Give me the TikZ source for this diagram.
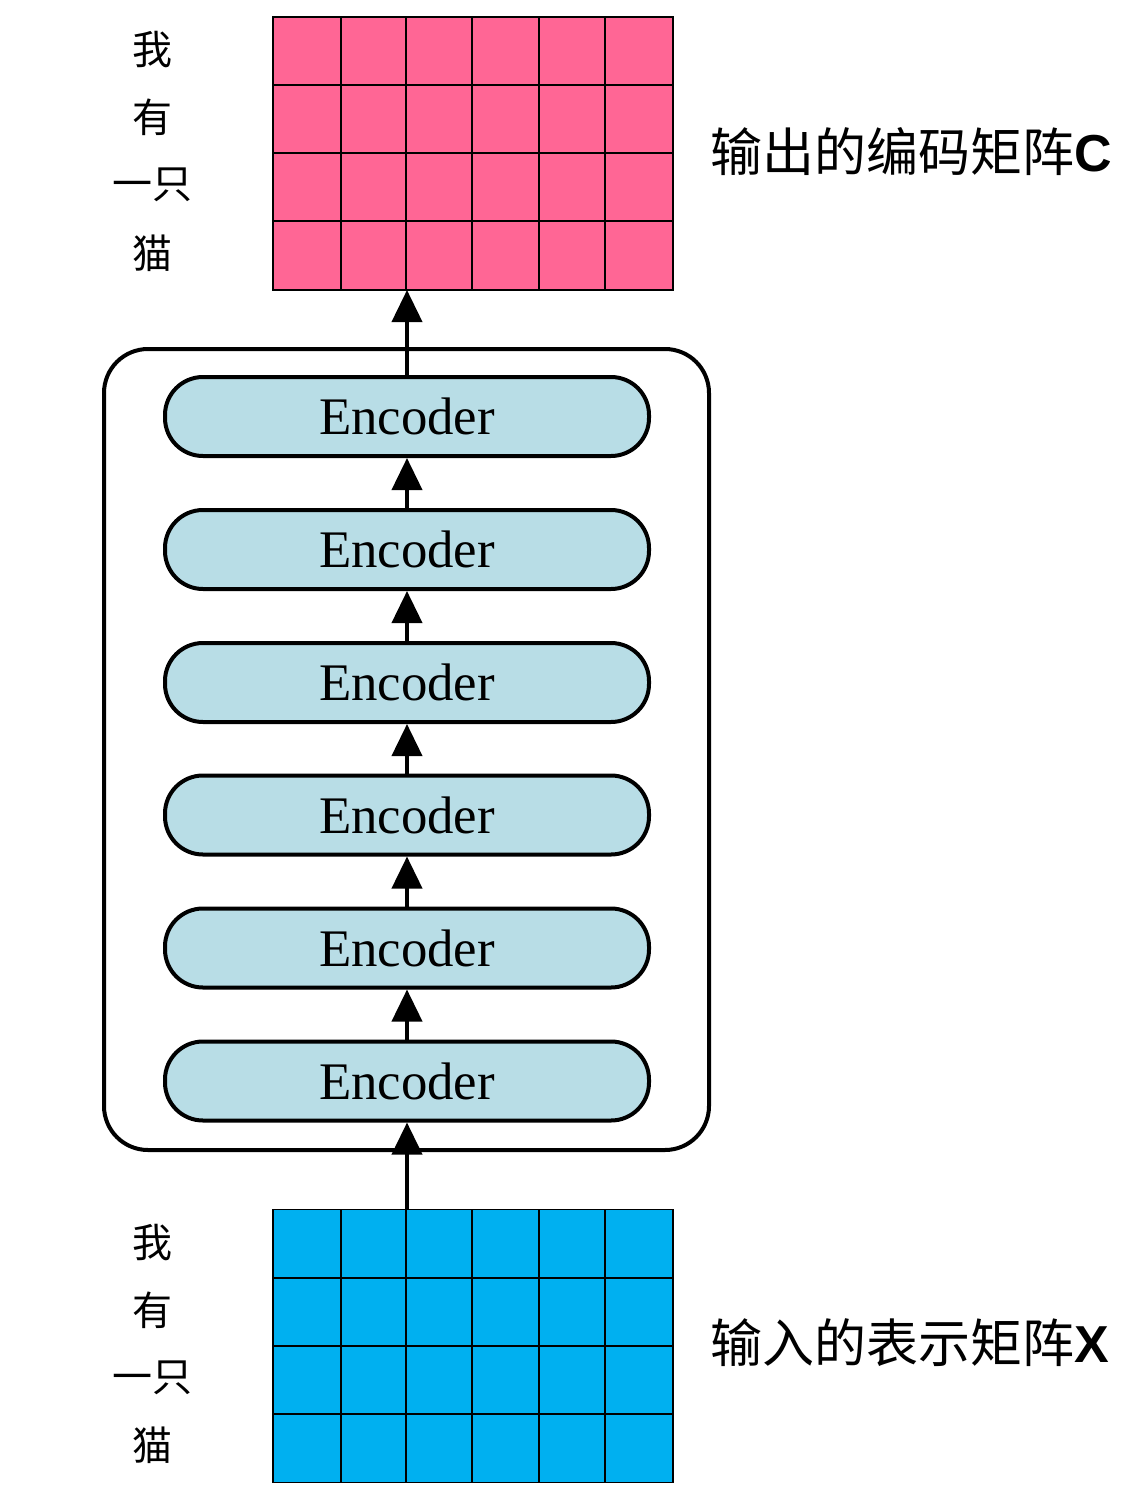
\documentclass[tikz,border=0pt]{standalone}
\usepackage{fontspec}
\setmainfont{Liberation Serif}
\newfontfamily\cjk{Noto Sans CJK SC}
\newfontfamily\lsans{Liberation Sans}
\usetikzlibrary{arrows.meta}
\definecolor{pinkc}{HTML}{FF6695}
\definecolor{bluec}{HTML}{00B0F0}
\definecolor{encfill}{HTML}{B8DDE6}
\tikzset{
  gridbox/.style={draw=black, line width=0.6pt, minimum width=200pt, minimum height=136.5pt, inner sep=0pt},
  enc/.style={draw=black, line width=2pt, fill=encfill, rounded corners=19pt, minimum width=242pt, minimum height=39.5pt, inner sep=0pt, font=\fontsize{26.4}{30}\selectfont},
  stackbox/.style={draw=black, line width=2pt, rounded corners=22pt, minimum width=302.5pt, minimum height=400.5pt, inner sep=0pt},
  flow/.style={line width=2pt, -{Triangle[length=16pt,width=15pt]}},
  tok/.style={font=\cjk\fontsize{20}{24}\selectfont, inner sep=0pt},
  lab/.style={font=\cjk\fontsize{26}{30}\selectfont, inner sep=0pt, anchor=west},
}
\begin{document}
\begin{tikzpicture}[x=0.5pt,y=-0.5pt]
\useasboundingbox (0,0) rectangle (1142,1493);
% top grid
\node[gridbox, fill=pinkc] (C) at (473,153.5) {};
\foreach \xx in {341,406,472,539,605} \draw[line width=0.6pt] (\xx,17) -- (\xx,290);
\foreach \yy in {85,153,221} \draw[line width=0.6pt] (273,\yy) -- (673,\yy);
% bottom grid
\node[gridbox, fill=bluec] (X) at (473,1346) {};
\foreach \xx in {341,406,472,539,605} \draw[line width=0.6pt] (\xx,1210) -- (\xx,1482);
\foreach \yy in {1278,1346,1414} \draw[line width=0.6pt] (273,\yy) -- (673,\yy);
% outer box
\node[stackbox] (stack) at (406.5,749.5) {};
% encoders
\node[enc] (e1) at (407,416.5) {Encoder};
\node[enc] (e2) at (407,549.5) {Encoder};
\node[enc] (e3) at (407,682.5) {Encoder};
\node[enc] (e4) at (407,815) {Encoder};
\node[enc] (e5) at (407,948) {Encoder};
\node[enc] (e6) at (407,1081) {Encoder};
% arrows
\coordinate (xin) at (407,1210);
\coordinate (cout) at (407,290);
\draw[flow] (xin) -- (e6.south);
\draw[flow] (e6.north) -- (e5.south);
\draw[flow] (e5.north) -- (e4.south);
\draw[flow] (e4.north) -- (e3.south);
\draw[flow] (e3.north) -- (e2.south);
\draw[flow] (e2.north) -- (e1.south);
\draw[flow] (e1.north) -- (cout);
% token labels
\node[tok] (t1) at (152,50) {我};
\node[tok] (t2) at (152,117) {有};
\node[tok] (t3) at (152,185) {一只};
\node[tok] (t4) at (152,253) {猫};
\node[tok] (b1) at (152,1243) {我};
\node[tok] (b2) at (152,1310) {有};
\node[tok] (b3) at (152,1378) {一只};
\node[tok] (b4) at (152,1445) {猫};
% side labels
\node[lab] (lc) at (710,152) {输出的编码矩阵{\lsans\bfseries C}};
\node[lab] (lx) at (710,1343) {输入的表示矩阵{\lsans\bfseries X}};
\end{tikzpicture}
\end{document}
